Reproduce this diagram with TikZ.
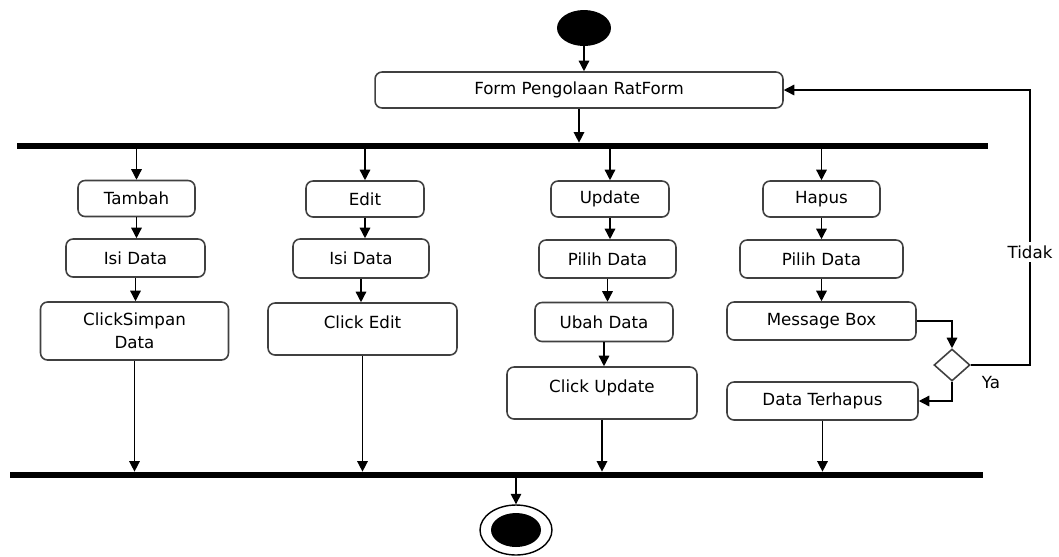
\documentclass[tikz,border=0pt]{standalone}
\usepackage{fontspec}
\setmainfont{DejaVu Sans}
\usetikzlibrary{shapes.geometric,arrows.meta}

\tikzset{
  act/.style={draw=black!75,line width=0.9pt,rounded corners=4pt,fill=white,align=center,inner sep=0pt,font=\fontsize{9.5}{13}\selectfont},
  flow/.style={-{Triangle[width=6pt,length=6pt]},black,line width=0.8pt},
  syncbar/.style={fill=black,inner sep=0pt,minimum height=0.12cm},
}

\begin{document}
\begin{tikzpicture}[x=0.02cm,y=-0.02cm]
    \useasboundingbox (0,0) rectangle (1059,556);
    \node[ellipse,fill=black,inner sep=0pt,minimum width=1.08cm,minimum height=0.72cm] (start) at (584,28) {};
    \node[act,minimum width=8.16cm,minimum height=0.72cm] (form) at (579,90) {Form Pengolaan RatForm};
    \node[syncbar,minimum width=19.42cm] (topbar) at (502.5,146) {};
    \node[act,minimum width=2.34cm,minimum height=0.72cm] (tambah) at (136.5,198.5) {Tambah};
    \node[act,minimum width=2.78cm,minimum height=0.76cm] (isi1) at (135.5,258) {Isi Data};
    \node[act,minimum width=3.76cm,minimum height=1.16cm] (simpan) at (134.5,331) {ClickSimpan\\Data};
    \node[act,minimum width=2.36cm,minimum height=0.72cm] (edit) at (365,199) {Edit};
    \node[act,minimum width=2.72cm,minimum height=0.78cm] (isi2) at (361,258.5) {Isi Data};
    \node[act,minimum width=3.78cm,minimum height=1.04cm] (clickedit) at (362.5,329) {Click Edit\\[-5pt]\mbox{}};
    \node[act,minimum width=2.36cm,minimum height=0.72cm] (update) at (610,199) {Update};
    \node[act,minimum width=2.74cm,minimum height=0.76cm] (pilih3) at (607.5,259) {Pilih Data};
    \node[act,minimum width=2.76cm,minimum height=0.78cm] (ubah) at (604,322) {Ubah Data};
    \node[act,minimum width=3.80cm,minimum height=1.04cm] (clickupdate) at (602,393) {Click Update\\[-5pt]\mbox{}};
    \node[act,minimum width=2.34cm,minimum height=0.72cm] (hapus) at (821.5,199) {Hapus};
    \node[act,minimum width=3.26cm,minimum height=0.76cm] (pilih4) at (821.5,259) {Pilih Data};
    \node[act,minimum width=3.78cm,minimum height=0.76cm] (msgbox) at (821.5,321) {Message Box};
    \node[act,minimum width=3.82cm,minimum height=0.76cm] (terhapus) at (822.5,401) {Data Terhapus};
    \node[diamond,draw=black!75,line width=0.9pt,inner sep=0pt,minimum width=0.72cm,minimum height=0.64cm] (dec) at (952,365) {};
    \node[syncbar,minimum width=19.46cm] (botbar) at (496.5,475) {};
    \node[ellipse,draw,line width=0.8pt,inner sep=0pt,minimum width=1.44cm,minimum height=1cm] (end) at (516,530) {};
    \node[ellipse,fill=black,inner sep=0pt,minimum width=1cm,minimum height=0.68cm] (endin) at (end) {};
    \draw[flow] (start) -- (start |- form.north);
    \draw[flow] (form.south) -- (form.south |- topbar.north);
    \draw[flow] (tambah.north |- topbar.south) -- (tambah.north);
    \draw[flow] (tambah.south) -- (tambah.south |- isi1.north);
    \draw[flow] (isi1.south) -- (isi1.south |- simpan.north);
    \draw[flow] (simpan.south) -- (simpan.south |- botbar.north);
    \draw[flow] (edit.north |- topbar.south) -- (edit.north);
    \draw[flow] (edit.south) -- (edit.south |- isi2.north);
    \draw[flow] (isi2.south) -- (isi2.south |- clickedit.north);
    \draw[flow] (clickedit.south) -- (clickedit.south |- botbar.north);
    \draw[flow] (update.north |- topbar.south) -- (update.north);
    \draw[flow] (update.south) -- (update.south |- pilih3.north);
    \draw[flow] (pilih3.south) -- (pilih3.south |- ubah.north);
    \draw[flow] (ubah.south) -- (ubah.south |- clickupdate.north);
    \draw[flow] (clickupdate.south) -- (clickupdate.south |- botbar.north);
    \draw[flow] (hapus.north |- topbar.south) -- (hapus.north);
    \draw[flow] (hapus.south) -- (hapus.south |- pilih4.north);
    \draw[flow] (pilih4.south) -- (pilih4.south |- msgbox.north);
    \draw[flow] (msgbox.east) -| (dec.north);
    \draw[flow] (dec.south) |- (terhapus.east);
    \draw[flow] (terhapus.south) -- (terhapus.south |- botbar.north);
    \coordinate (turn) at (1030,365);
    \draw[flow] (dec.east) -- (turn) |- (form.east);
    \node[fill=white,inner sep=2pt,font=\fontsize{9.5}{13}\selectfont] (tidak) at (1030,252) {Tidak};
    \node[font=\fontsize{9.5}{13}\selectfont] (ya) at (991,383) {Ya};
    \draw[flow] (end |- botbar.south) -- (end.north);
\end{tikzpicture}
\end{document}
